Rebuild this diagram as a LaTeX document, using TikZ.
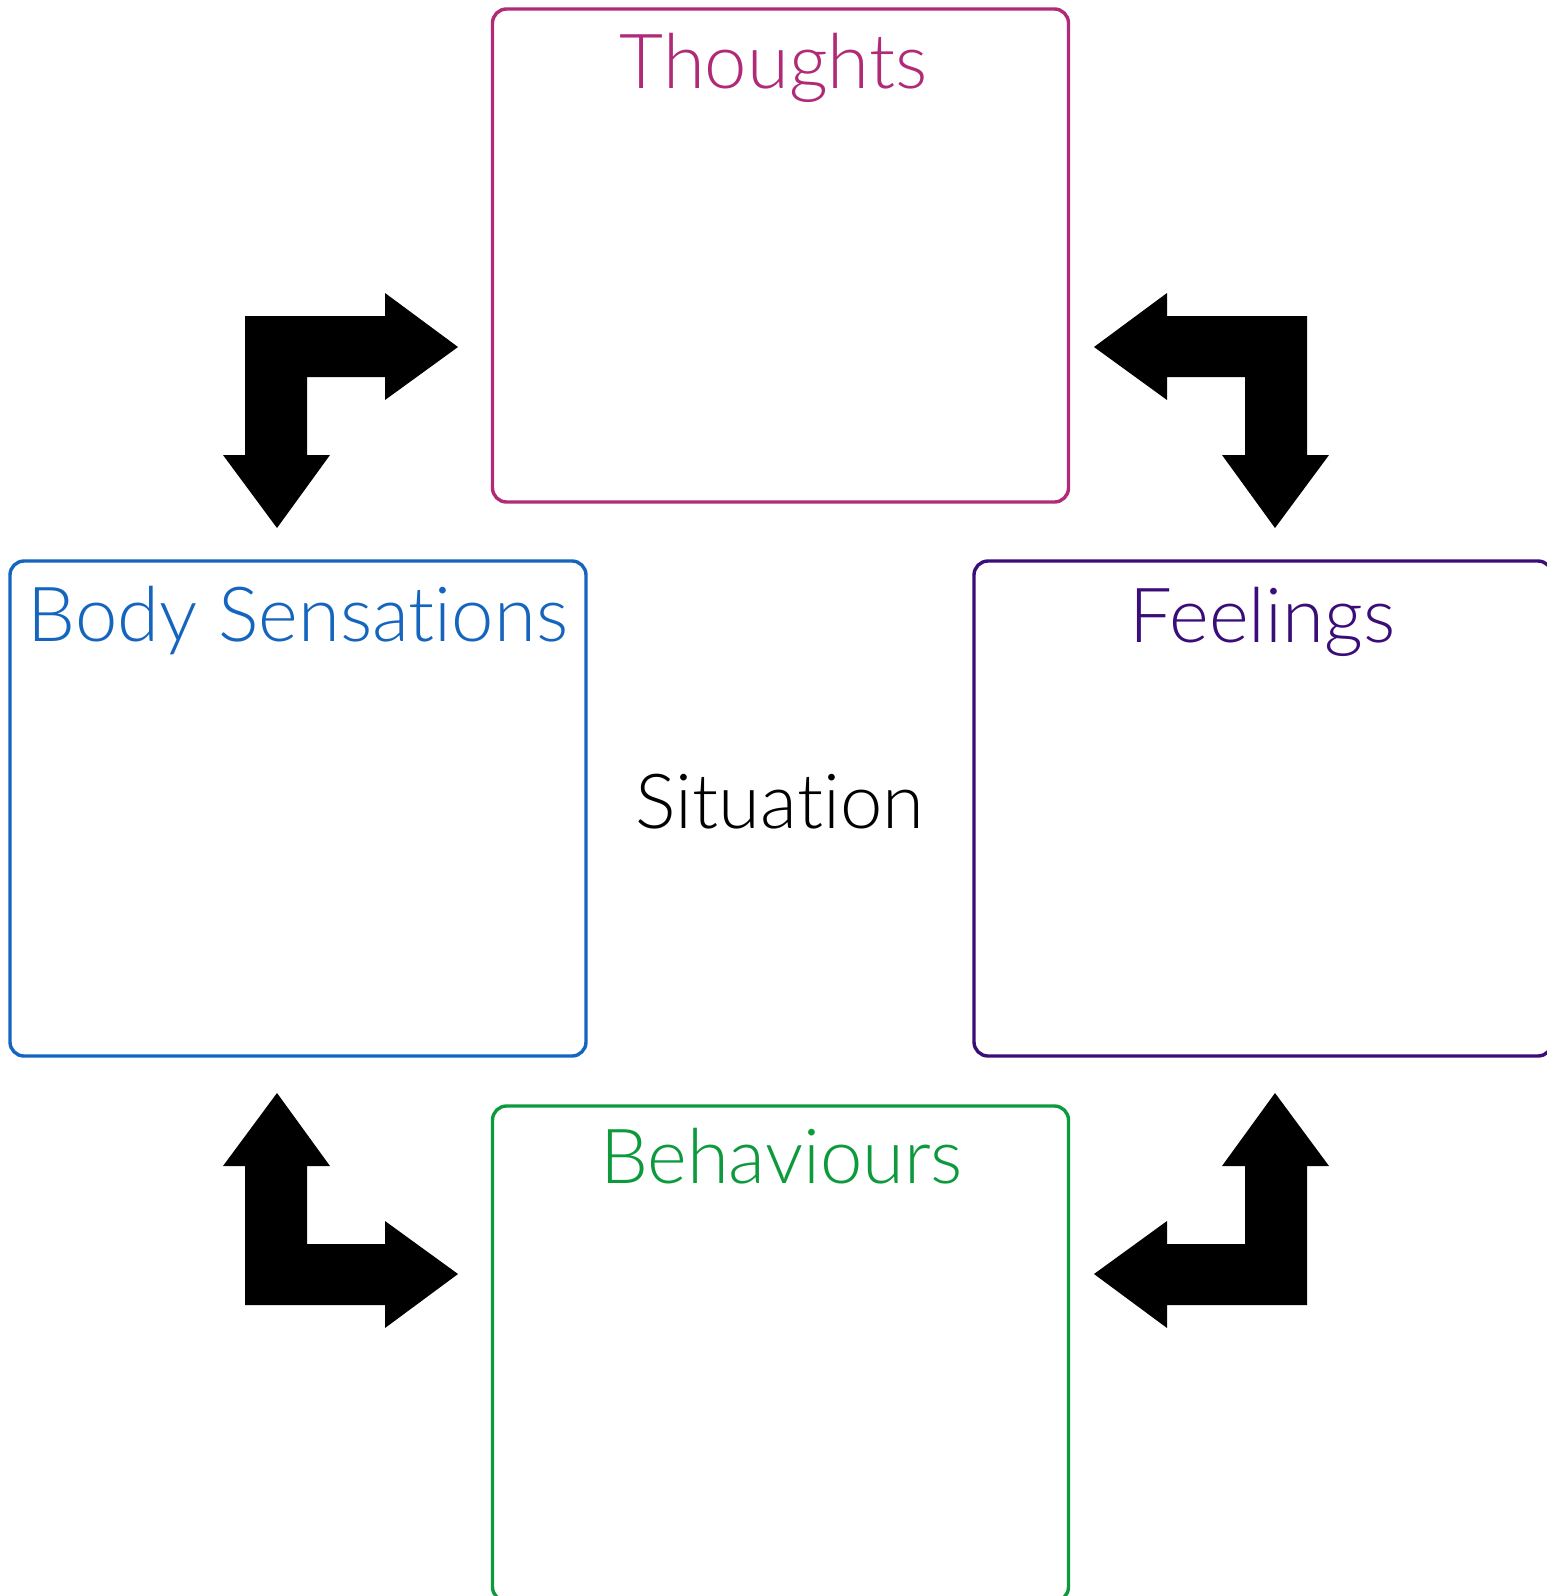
\documentclass[tikz,border=0pt]{standalone}
\usepackage{fontspec}
\newfontfamily\handfont{Lato}[UprightFont={* Light}, RawFeature={-liga;-dlig}]
\definecolor{thoughtc}{HTML}{B02A78}
\definecolor{bodyc}{HTML}{1565BF}
\definecolor{feelc}{HTML}{3B0D78}
\definecolor{behavc}{HTML}{0D9A3D}
\tikzset{
  box/.style={draw, line width=3.4pt, rounded corners=14pt, inner sep=0pt, fill=none},
  label/.style={anchor=base, inner sep=0pt, font=\handfont\fontsize{76}{90}\selectfont},
  bigarrow/.style={fill=black, draw=none},
}
\begin{document}
\begin{tikzpicture}[x=1pt, y=-1pt]
\useasboundingbox (0,0) rectangle (1547,1596);
\clip (0,0) rectangle (1547,1596);
\fill[white] (0,0) rectangle (1547,1596);
% boxes
\draw[box, thoughtc] (492.5,9) rectangle (1068.5,502) coordinate (thoughtsbox);
\draw[box, bodyc] (10,561) rectangle (586,1056) coordinate (bodybox);
\draw[box, feelc] (974,561) rectangle (1552,1056) coordinate (feelbox);
\draw[box, behavc] (492.5,1106) rectangle (1068.5,1601) coordinate (behavbox);
% labels
\node[label, text=thoughtc] (thoughts) at (773.5,88) {Thoughts};
\node[label, text=bodyc] (body) at (298,641) {Body Sensations};
\node[label, text=feelc] (feelings) at (1262.5,642) {Feelings};
\node[label, text=black] (situation) at (780,828) {Situation};
\node[label, text=behavc] (behaviours) at (781.5,1183) {Behaviours};
% arrow shape
\def\lshape{(277,528) -- (330,455) -- (307,455) -- (307,377) -- (385,377) -- (385,400) -- (458,347) -- (385,293) -- (385,316) -- (245,316) -- (245,455) -- (223,455) -- cycle}
\fill[bigarrow] \lshape;
\begin{scope}[xshift=1552pt, xscale=-1]
\fill[bigarrow] \lshape;
\end{scope}
\begin{scope}[yshift=-1621pt, yscale=-1]
\fill[bigarrow] \lshape;
\end{scope}
\begin{scope}[xshift=1552pt, yshift=-1621pt, xscale=-1, yscale=-1]
\fill[bigarrow] \lshape;
\end{scope}
\end{tikzpicture}
\end{document}
